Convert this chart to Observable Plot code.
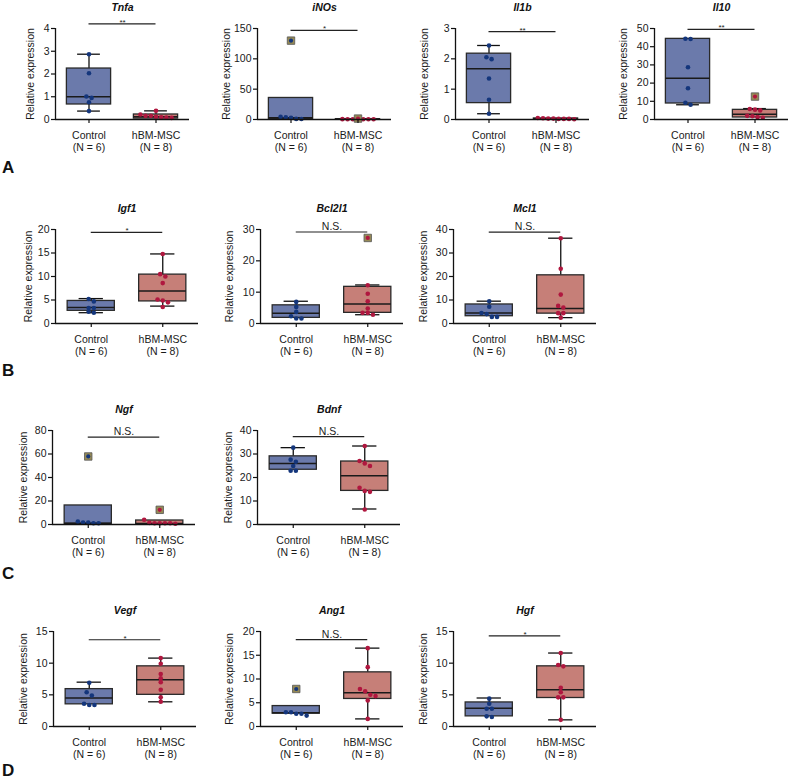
<!DOCTYPE html>
<html><head><meta charset="utf-8">
<script src="https://cdn.jsdelivr.net/npm/d3@7"></script>
<script src="https://cdn.jsdelivr.net/npm/@observablehq/plot@0.6"></script>
<style>
body{margin:0;background:#fff;}
#fig{position:relative;width:791px;height:784px;overflow:hidden;font-family:"Liberation Sans",Arial,sans-serif;background:#fff;}
#fig svg{position:absolute;overflow:visible;}
.lbl{position:absolute;font-weight:bold;font-size:17px;line-height:17px;color:#111;}
</style></head><body><div id="fig"></div>
<script>
// ---------- data ----------
const genes = ["Tnfa","iNOs","Il1b","Il10","Igf1","Bcl2l1","Mcl1","Ngf","Bdnf","Vegf","Ang1","Hgf"];
const groups = ["Control","hBM-MSC"];
const groupN = [6, 8];
const yMax  = [4,150,3,50,20,30,40,80,40,15,20,15];
const yStep = [1,50,1,10,5,10,10,20,10,5,5,5];
const sigLabels = ["**","*","**","**","*","N.S.","N.S.","N.S.","N.S.","*","N.S.","*"];
const sigLevel  = [4.2,147,2.9,49.5,19.4,29.2,38.9,74.3,37.4,13.7,18.3,14.3];
const rowLetters = ["A","B","C","D"];

// individual points (non-outliers)
const controlValues = [
  [2.87,2.03,1.01,0.95,0.76,0.37],
  [4.4,2.8,1.0,0.9,3.8],
  [2.44,2.05,1.99,1.35,0.65,0.19],
  [44.4,44.2,28.7,17.2,9.2,8.1],
  [5.2,4.7,3.3,3.3,2.3,2.5],
  [6.9,5.3,3.7,2.3,1.6,1.6],
  [9.5,7.1,4.5,4.0,2.8,2.8],
  [2.6,1.7,1.1,1.1,1.7],
  [32.7,27.6,26.7,24.9,22.9,22.9],
  [6.9,5.4,4.9,3.6,3.4,3.4],
  [3.0,2.7,2.3,2.7,3.0],
  [4.4,3.6,2.8,2.8,1.6,1.5]
];
const mscValues = [
  [0.38,0.22,0.16,0.12,0.09,0.07,0.10,0.16],
  [0.4,0.3,0.5,0.6,0.3,0.4,0.5],
  [0.02,0.03,0.01,0.02,0.03,0.04,0.05,0.02],
  [5.4,5.0,5.8,2.0,1.0,1.3,1.8],
  [14.8,10.5,10.0,8.6,4.9,5.1,4.5,3.5],
  [12.2,9.5,7.1,4.8,3.4,3.4,2.8],
  [36.3,23.3,12.3,7.5,6.8,4.4,4.4,2.5],
  [4.0,1.1,1.1,0.6,1.1,1.1,1.4],
  [33.4,27.0,26.0,24.9,15.6,14.3,13.9,6.4],
  [10.8,9.9,8.3,7.6,7.0,5.8,4.6,3.9],
  [16.5,12.5,7.9,7.4,6.7,6.4,5.5,1.6],
  [11.6,9.7,9.5,6.1,5.4,4.6,4.6,1.05]
];
const controlOutliers = [[],[130],[],[],[],[],[],[57.9],[],[],[7.9],[]];
const mscOutliers     = [[],[1.5],[],[12.6],[],[27.3],[],[12.5],[],[],[],[]];
// box statistics [whisker low, q1, median, q3, whisker high]
const controlBox = [
  [0.37,0.66,1.0,2.24,2.87],
  [0.5,0.8,3.0,35.5,35.5],
  [0.19,0.54,1.67,2.17,2.44],
  [8.1,8.8,22.7,44.3,44.4],
  [2.3,2.7,3.4,4.8,5.3],
  [1.6,1.8,3.3,5.8,7.1],
  [2.8,3.1,4.5,8.1,9.5],
  [0.6,0.6,1.0,16.2,16.2],
  [22.9,23.3,26.0,29.0,32.7],
  [3.4,3.5,4.5,5.9,7.0],
  [2.7,2.7,2.9,4.3,4.3],
  [1.5,1.6,2.9,3.8,4.5]
];
const mscBox = [
  [0.03,0.04,0.12,0.22,0.38],
  [0.2,0.3,0.4,0.6,0.7],
  [0.01,0.015,0.025,0.035,0.05],
  [0.6,1.1,2.9,5.3,6.0],
  [3.7,4.7,6.9,10.4,14.8],
  [2.8,3.4,6.2,11.7,12.3],
  [2.5,4.2,6.4,20.5,36.3],
  [0.3,0.3,0.9,3.4,4.0],
  [6.6,14.3,20.7,26.8,33.4],
  [3.9,5.0,7.4,9.5,10.8],
  [1.6,5.8,7.1,11.4,16.5],
  [1.05,4.5,5.8,9.5,11.6]
];

// ---------- layout ----------
const rowTop = [28, 229, 430, 631];
const rowFrameH = [91, 94, 94, 95];
const rowFrameW = [134, 143, 143, 143];
const rowLetterY = [159, 362, 565, 762];
const panelRow = [0,0,0,0,1,1,1,2,2,3,3,3];
const panelAxisX = [55,257,455,654,55,260,453,52,257,53,260,453];
const panelLabelOffset = [-25,-31,-31,-31,-27,-31,-30,-29,-29,-30,-31,-30];

const colors = {
  boxFill: ["#6b7aab", "#c67f78"],
  dot: ["#14367c", "#b0173f"],
  stroke: "#2a2a2a",
  outlier: "#968a55"
};
const FONT = '"Liberation Sans", Arial, Helvetica, sans-serif';
const ML = 50, MR = 10, MT = 30, MB = 38;

function jitter(values, center, ymax, fh, fw) {
  const pxPerUnitX = fw / 2;
  const items = values.map(v => ({v}));
  const sorted = items.slice().sort((a, b) => b.v - a.v);
  const clusters = [];
  let cur = [];
  for (const it of sorted) {
    const py = it.v / ymax * fh;
    if (cur.length && Math.abs(cur[cur.length - 1].py - py) > 3.5) { clusters.push(cur); cur = []; }
    it.py = py; cur.push(it);
  }
  if (cur.length) clusters.push(cur);
  for (const c of clusters) {
    const n = c.length;
    c.forEach((it, i) => { it.x = center + (i - (n - 1) / 2) * 5.2 / pxPerUnitX; });
  }
  return items.map(it => ({x: it.x, y: it.v}));
}

const fig = document.getElementById("fig");

genes.forEach((gene, i) => {
  const r = panelRow[i];
  const fw = rowFrameW[r], fh = rowFrameH[r];
  const ym = yMax[i];
  const centers = [0.5, 1.5];
  const cats = groups.map((g, k) => ({x: centers[k], name: g, n: `(N = ${groupN[k]})`}));
  const boxes = [controlBox[i], mscBox[i]].map((b, g) => ({
    c: centers[g], lo: b[0], q1: b[1], med: b[2], q3: b[3], hi: b[4], g
  }));
  const pts = [];
  [controlValues[i], mscValues[i]].forEach((vals, g) => {
    jitter(vals, centers[g], ym, fh, fw).forEach(p => pts.push({...p, g}));
  });
  const outs = [];
  [controlOutliers[i], mscOutliers[i]].forEach((vals, g) => vals.forEach(v => outs.push({x: centers[g], y: v, g})));
  const thr = ym * 0.012;
  const upper = boxes.filter(b => b.hi - b.q3 > thr);
  const lower = boxes.filter(b => b.q1 - b.lo > thr);
  const isNS = sigLabels[i] === "N.S.";

  const plot = Plot.plot({
    width: ML + fw + MR,
    height: MT + fh + MB,
    marginLeft: ML, marginRight: MR, marginTop: MT, marginBottom: MB,
    x: {domain: [0, 2], axis: null},
    y: {domain: [0, ym], axis: null},
    style: {fontFamily: FONT, fontSize: "10.5px", overflow: "visible", background: "transparent", color: "#1a1a1a"},
    marks: [
      // whiskers
      Plot.ruleX(upper, {x: "c", y1: "q3", y2: "hi", stroke: "#111", strokeWidth: 1.3}),
      Plot.ruleX(lower, {x: "c", y1: "lo", y2: "q1", stroke: "#111", strokeWidth: 1.3}),
      Plot.ruleY(upper, {y: "hi", x1: d => d.c - 0.17, x2: d => d.c + 0.17, stroke: "#111", strokeWidth: 1.3}),
      Plot.ruleY(lower, {y: "lo", x1: d => d.c - 0.17, x2: d => d.c + 0.17, stroke: "#111", strokeWidth: 1.3}),
      // boxes
      Plot.rect(boxes, {x1: d => d.c - 0.33, x2: d => d.c + 0.33, y1: "q1", y2: "q3",
        fill: d => colors.boxFill[d.g], stroke: colors.stroke, strokeWidth: 1.3}),
      Plot.ruleY(boxes, {y: "med", x1: d => d.c - 0.33, x2: d => d.c + 0.33, stroke: "#1a1a1a", strokeWidth: 1.5}),
      // points
      Plot.dot(pts, {x: "x", y: "y", r: 2.3, fill: d => colors.dot[d.g], stroke: "none"}),
      Plot.dot(outs, {x: "x", y: "y", symbol: "square", r: 4.2, fill: colors.outlier, stroke: "#555", strokeWidth: 0.8}),
      Plot.dot(outs, {x: "x", y: "y", r: 2.1, fill: d => colors.dot[d.g], stroke: "none"}),
      // axes
      Plot.ruleX([0], {stroke: "#111", strokeWidth: 1.3}),
      Plot.ruleY([0], {stroke: "#111", strokeWidth: 1.3}),
      Plot.axisY({ticks: d3.range(0, ym + yStep[i] / 2, yStep[i]), tickSize: 4, tickPadding: 2,
        tickFormat: d => String(d), label: null, fontSize: 10.5, stroke: "#111", strokeWidth: 1.2}),
      Plot.axisX({ticks: centers, tickSize: 4, label: null, tickFormat: () => "",
        stroke: "#111", strokeWidth: 1.2}),
      Plot.text(cats, {x: "x", text: "name", frameAnchor: "bottom", lineAnchor: "middle", dy: 16, fontSize: 10.5, fill: "#1a1a1a"}),
      Plot.text(cats, {x: "x", text: "n", frameAnchor: "bottom", lineAnchor: "middle", dy: 28, fontSize: 10.5, fill: "#1a1a1a"}),
      Plot.text(["Relative expression"], {frameAnchor: "left", textAnchor: "middle", lineAnchor: "middle",
        rotate: -90, dx: panelLabelOffset[i], fontSize: 10.5, fill: "#1a1a1a"}),
      // title
      Plot.text([gene], {frameAnchor: "top", lineAnchor: "middle", dy: -21, fontSize: 10.5,
        fontWeight: "bold", fontStyle: "italic", fill: "#111"}),
      // significance
      Plot.ruleY([sigLevel[i]], {x1: 0.5, x2: 1.5, stroke: "#222", strokeWidth: 1.2}),
      Plot.text([sigLabels[i]], {x: 1, y: sigLevel[i], lineAnchor: "bottom",
        dy: isNS ? -2 : 1, fontSize: isNS ? 10.5 : 8, fill: "#222"})
    ]
  });
  plot.style.left = (panelAxisX[i] - ML) + "px";
  plot.style.top = (rowTop[r] - MT) + "px";
  fig.appendChild(plot);
});

rowLetters.forEach((L, r) => {
  const d = document.createElement("div");
  d.className = "lbl";
  d.textContent = L;
  d.style.left = "2px";
  d.style.top = rowLetterY[r] + "px";
  fig.appendChild(d);
});
</script></body></html>
